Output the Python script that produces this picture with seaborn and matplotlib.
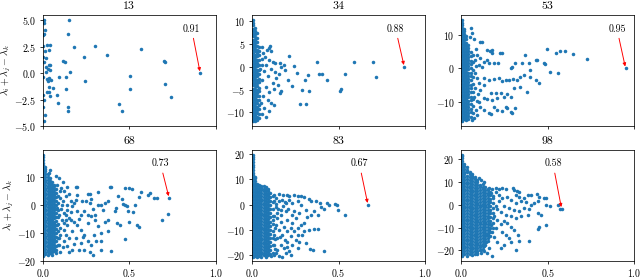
"""Scatter of lambda_i + lambda_j - lambda_k against overlap, one panel per size."""

import matplotlib
matplotlib.use("Agg")
import matplotlib.pyplot as plt
import pandas as pd
import seaborn as sns

titles = ["13", "34", "53", "68", "83", "98"]
y_limits = [(-5.0, 5.5), (-13.0, 11.4), (-17.3, 16.0), (-20.0, 19.6), (-22.1, 21.7), (-24.5, 24.1)]
y_ticks = [[-5.0, -2.5, 0.0, 2.5, 5.0], [-10, -5, 0, 5, 10], [-10, 0, 10],
           [-20, -10, 0, 10], [-20, -10, 0, 10, 20], [-20, -10, 0, 10, 20]]

# ---- 13: few points, all read one by one
pts_13 = [
    (0.004, 5.0), (0.008, 4.7), (0.013, 4.07), (0.005, 3.7), (0.003, 3.6),
    (0.0, 2.54), (0.023, 2.7), (0.04, 2.63), (0.013, 2.1), (0.036, 2.16),
    (0.0, 1.52), (0.008, 1.1), (0.019, 1.46), (0.033, 0.73), (0.042, 0.73),
    (0.019, 0.57), (0.029, 0.35), (0.042, 0.25), (0.019, 0.1), (0.0, -0.38),
    (0.023, -0.54), (0.029, -0.7), (0.038, -0.44), (0.048, -0.63), (0.033, -1.33),
    (0.023, -1.8), (0.038, -1.8), (0.0, -2.1), (0.042, -2.2), (0.008, -2.54),
    (0.0, -3.2), (0.013, -3.97), (0.008, -4.5), (0.057, -1.4), (0.08, -2.1),
    (0.09, -2.8), (0.096, -0.32), (0.119, 1.14), (0.126, 1.08), (0.134, -0.35),
    (0.134, -1.5), (0.148, 3.68), (0.153, 5.0), (0.148, -3.24), (0.148, -3.6),
    (0.157, 0.1), (0.18, 2.48), (0.238, 1.52), (0.241, -0.79), (0.299, 2.54),
    (0.368, 1.71), (0.439, -2.92), (0.458, -3.56), (0.502, -1.46), (0.506, -0.25),
    (0.567, 2.25), (0.701, 1.17), (0.709, 1.05), (0.705, -1.05), (0.739, -2.29),
    (0.91, 0.0),
]

# ---- 34: dense strip near x = 0 (columns) + scattered points
cols_34 = [0.003, 0.014, 0.026, 0.040]
core_34 = [
    [-12.0, -11.4, -10.7, -10.2, -9.5, -9.0, -8.3, -7.8, -7.1, -6.6, -5.9, -5.3, -4.8, -4.1,
     -3.6, -2.9, -2.4, -1.7, -1.2, -0.5, 0.0, 0.7, 1.2, 1.9, 2.4, 3.1, 3.6, 4.3, 4.8, 5.5,
     6.0, 6.7, 7.2, 7.9, 8.4, 9.1, 9.6, 10.3],
    [-11.9, -11.2, -10.6, -9.9, -9.3, -8.7, -8.0, -7.4, -6.8, -6.1, -5.5, -4.9, -4.2, -3.6,
     -3.0, -2.3, -1.7, -1.1, -0.4, 0.2, 0.8, 1.5, 2.1, 2.7, 3.4, 4.0, 4.6, 5.3, 5.9, 6.5,
     7.2, 7.9, 8.6],
    [-11.7, -11.0, -10.2, -9.5, -8.8, -8.0, -7.3, -6.5, -5.8, -5.1, -4.3, -3.6, -2.8, -2.1,
     -1.4, -0.6, 0.1, 0.9, 1.6, 2.3, 3.1, 3.8, 4.6, 5.4, 6.3, 7.5],
    [-11.3, -10.4, -9.2, -8.4, -7.3, -6.5, -5.4, -4.6, -3.4, -2.6, -1.5, -0.6, 0.5, 1.4,
     2.5, 3.4, 4.4],
]
pts_34 = [
    (0.055, 4.3), (0.065, 3.0), (0.087, 3.7), (0.097, 4.2), (0.106, 4.5), (0.112, 3.5),
    (0.060, 1.8), (0.075, 2.2), (0.100, 1.5), (0.120, 1.0), (0.135, 0.8), (0.160, 0.9),
    (0.165, 0.0), (0.185, 0.5), (0.190, -0.8), (0.213, 2.4), (0.245, 0.1), (0.260, -1.3),
    (0.210, -2.8), (0.228, -4.2), (0.155, -1.5), (0.140, -2.5), (0.120, -3.5), (0.090, -2.0),
    (0.070, -1.0), (0.080, -4.5), (0.100, -5.5), (0.126, -4.8), (0.160, -5.7), (0.150, -4.0),
    (0.065, -6.5), (0.090, -7.2), (0.110, -8.0), (0.126, -8.4), (0.070, -9.0), (0.060, -10.3),
    (0.083, -11.0), (0.100, -9.8), (0.050, -8.0), (0.055, -3.0), (0.045, -0.5), (0.060, 0.5),
    (0.080, 0.3), (0.110, -0.5), (0.130, -1.2), (0.165, -5.3), (0.288, -5.1), (0.276, -8.2),
    (0.310, -8.2), (0.327, -5.3), (0.323, -1.8), (0.304, -2.8), (0.373, 1.1), (0.387, -1.5),
    (0.406, -1.6), (0.435, -2.8), (0.509, -5.3), (0.516, -4.9), (0.540, -1.6), (0.590, 1.1),
    (0.700, 1.1), (0.718, -2.2), (0.880, 0.0),
]

# ---- 53
cols_53 = [0.003, 0.015, 0.028, 0.041, 0.054, 0.067]
core_53 = [
    [-15.8, -15.0, -14.3, -13.4, -12.7, -11.9, -11.0, -10.3, -9.5, -8.6, -7.9, -7.1, -6.2,
     -5.5, -4.7, -3.8, -3.1, -2.3, -1.4, -0.7, 0.1, 1.0, 1.7, 2.5, 3.4, 4.1, 4.9, 5.8, 6.5,
     7.3, 8.2, 8.9, 9.7, 10.6, 11.3, 12.1, 13.0, 13.7, 14.5],
    [-15.3, -14.5, -13.6, -12.8, -12.0, -11.2, -10.4, -9.5, -8.7, -7.9, -7.1, -6.3, -5.4,
     -4.6, -3.8, -3.0, -2.2, -1.3, -0.5, 0.3, 1.1, 1.9, 2.8, 3.6, 4.4, 5.2, 6.0, 6.9, 7.7,
     8.5, 9.3, 10.2, 11.1, 11.9],
    [-15.6, -14.7, -13.9, -13.0, -12.2, -11.3, -10.5, -9.6, -8.8, -7.9, -7.1, -6.2, -5.4,
     -4.5, -3.7, -2.8, -2.0, -1.1, -0.3, 0.6, 1.4, 2.3, 3.1, 4.0, 4.8, 5.7, 6.6, 7.6, 8.7, 9.6],
    [-15.3, -14.3, -13.4, -12.5, -11.5, -10.6, -9.7, -8.7, -7.8, -6.9, -5.9, -5.0, -4.1,
     -3.1, -2.2, -1.3, -0.3, 0.6, 1.5, 2.5, 3.4, 4.3, 5.3, 6.2, 7.1],
    [-14.6, -13.2, -12.1, -10.8, -9.6, -8.5, -7.2, -6.0, -4.9, -3.6, -2.4, -1.3, 0.0, 1.2,
     2.3, 3.6, 4.8],
    [-13.5, -11.4, -9.2, -7.0, -4.8, -2.5, -0.4, 1.8, 3.9],
]
pts_53 = [
    (0.054, 12.0), (0.063, 10.5), (0.050, 9.5), (0.073, 8.7), (0.108, 7.8), (0.117, 7.8),
    (0.083, 5.7), (0.150, 5.5), (0.165, 5.3), (0.179, 5.5), (0.179, 4.5), (0.092, 4.0),
    (0.110, 3.0), (0.130, 2.0), (0.146, 2.5), (0.237, 4.5), (0.223, 4.5), (0.100, 1.0),
    (0.120, 0.5), (0.160, 1.5), (0.190, 1.7), (0.210, 1.5), (0.285, 0.0), (0.294, 0.3),
    (0.313, 1.5), (0.352, 1.5), (0.390, 1.7), (0.371, 4.0), (0.430, 2.5), (0.440, 2.5),
    (0.477, 1.5), (0.485, 1.3), (0.496, 5.7), (0.550, 4.7), (0.573, 5.3), (0.600, 5.3),
    (0.646, 4.3), (0.727, 2.7), (0.515, -1.0), (0.560, -1.3), (0.400, -0.5), (0.950, 0.0),
    (0.130, -3.0), (0.160, -3.5), (0.190, -3.3), (0.217, -3.0), (0.237, -3.7), (0.256, -3.5),
    (0.275, -3.5), (0.300, -3.2), (0.323, -3.5), (0.342, -2.5), (0.360, -2.0), (0.400, -2.5),
    (0.430, -3.5), (0.448, -4.5), (0.380, -7.0), (0.342, -5.5), (0.304, -6.0), (0.100, -4.5),
    (0.130, -5.0), (0.110, -6.5), (0.170, -7.5), (0.198, -7.5), (0.227, -7.5), (0.265, -7.7),
    (0.285, -8.5), (0.246, -8.5), (0.208, -9.0), (0.179, -9.5), (0.150, -9.3), (0.130, -9.0),
    (0.110, -11.5), (0.130, -12.5), (0.160, -13.5), (0.170, -13.8), (0.208, -12.5),
    (0.256, -11.5), (0.265, -12.0), (0.285, -13.0), (0.294, -13.5), (0.313, -12.0),
    (0.237, -12.7), (0.190, -11.7), (0.083, -12.5), (0.092, -14.0), (0.073, -15.0),
    (0.063, -15.5), (0.080, -1.5), (0.085, 0.8), (0.075, -8.5), (0.088, -9.8), (0.095, -7.6),
    (0.078, 2.5), (0.090, -3.0), (0.080, -5.8), (0.100, -10.2),
]

# ---- 68
cols_68 = [0.003, 0.015, 0.027, 0.039, 0.051, 0.063, 0.075, 0.088]
core_68 = [
    [-18.2, -17.3, -16.3, -15.4, -14.4, -13.5, -12.5, -11.6, -10.6, -9.7, -8.7, -7.8, -6.8,
     -5.9, -4.9, -4.0, -3.0, -2.1, -1.1, -0.2, 0.8, 1.7, 2.7, 3.6, 4.6, 5.5, 6.5, 7.4, 8.4,
     9.3, 10.3, 11.2, 12.2, 13.1, 14.1, 15.0, 16.0, 16.9, 17.8],
    [-17.6, -16.7, -15.7, -14.8, -13.8, -12.9, -11.9, -11.0, -10.0, -9.1, -8.1, -7.2, -6.2,
     -5.3, -4.3, -3.4, -2.4, -1.5, -0.5, 0.4, 1.4, 2.3, 3.3, 4.2, 5.2, 6.1, 7.1, 8.0, 9.0,
     9.9, 10.9, 11.9, 12.9, 13.5],
    [-18.0, -17.0, -16.1, -15.1, -14.2, -13.2, -12.3, -11.3, -10.4, -9.4, -8.5, -7.5, -6.6,
     -5.6, -4.7, -3.7, -2.8, -1.8, -0.9, 0.1, 1.0, 2.0, 2.9, 3.9, 4.8, 5.8, 6.7, 7.7, 8.7,
     9.8, 11.0],
    [-17.3, -16.4, -15.4, -14.5, -13.5, -12.6, -11.6, -10.7, -9.7, -8.8, -7.8, -6.9, -5.9,
     -5.0, -4.0, -3.1, -2.1, -1.2, -0.2, 0.8, 1.7, 2.7, 3.6, 4.6, 5.5, 6.5, 7.5, 8.6, 9.4],
    [-17.8, -16.9, -15.9, -15.0, -14.0, -13.1, -12.1, -11.2, -10.2, -9.3, -8.3, -7.4, -6.4,
     -5.5, -4.5, -3.6, -2.6, -1.7, -0.7, 0.2, 1.2, 2.1, 3.1, 4.0, 5.0, 6.0, 7.0, 8.1],
    [-16.5, -15.4, -14.4, -13.3, -12.3, -11.2, -10.2, -9.1, -8.1, -7.0, -6.0, -4.9, -3.9,
     -2.8, -1.8, -0.7, 0.3, 1.4, 2.4, 3.5, 4.5, 5.6, 6.6, 7.1],
    [-16.2, -14.6, -13.1, -11.5, -10.2, -8.7, -7.3, -5.8, -4.4, -2.9, -1.5, 0.0, 1.4, 2.9,
     4.3, 5.6],
    [-14.5, -12.0, -9.4, -6.9, -4.3, -1.8, 0.6, 3.2],
]
pts_68 = [
    (0.141, 6.5), (0.190, 6.5), (0.200, 6.2), (0.260, 3.8), (0.270, 4.0), (0.320, 4.4),
    (0.386, 6.5), (0.396, 6.5), (0.475, 6.0), (0.500, 6.0), (0.518, 5.7), (0.570, 4.4),
    (0.610, 3.6), (0.620, 4.2), (0.557, 2.6), (0.640, 2.4), (0.660, 2.4), (0.730, 2.4),
    (0.725, -3.3), (0.690, -5.4),
    (0.435, 3.0), (0.455, 2.1), (0.465, 0.2), (0.475, 0.0), (0.485, -0.4), (0.530, 0.0),
    (0.494, -2.4), (0.524, -2.6), (0.425, -1.2), (0.416, -2.4), (0.376, 1.2), (0.357, 0.6),
    (0.337, -0.2), (0.318, 0.0), (0.347, -1.8), (0.302, -3.6), (0.278, -4.2), (0.259, -3.8),
    (0.220, -3.6), (0.200, -2.4), (0.239, -2.1), (0.288, -1.4), (0.270, 0.6), (0.229, 1.2),
    (0.190, 1.8), (0.160, 1.2), (0.170, -0.6), (0.141, -1.8), (0.131, 3.0), (0.151, 3.8),
    (0.200, 3.6), (0.120, 4.8), (0.100, 2.4),
    (0.430, -6.5), (0.445, -7.1), (0.500, -6.2), (0.543, -7.1), (0.557, -8.1), (0.475, -12.1),
    (0.396, -16.4), (0.337, -13.1), (0.376, -9.5), (0.318, -7.7), (0.288, -17.9),
    (0.278, -14.3), (0.259, -13.1), (0.239, -10.7), (0.220, -8.9), (0.200, -7.1),
    (0.180, -6.0), (0.160, -5.4), (0.141, -7.1), (0.170, -9.5), (0.190, -11.9),
    (0.220, -13.7), (0.239, -16.1), (0.210, -16.1), (0.170, -16.1), (0.141, -14.9),
    (0.120, -13.1), (0.100, -10.7), (0.131, -10.7), (0.259, -6.5), (0.298, -10.7),
    (0.337, -10.1), (0.357, -6.0), (0.376, -5.4), (0.308, -13.1), (0.337, -16.1),
    (0.270, -16.7), (0.100, -16.7), (0.073, -17.3),
    (0.082, 7.1), (0.092, 9.5), (0.073, 10.1), (0.043, 12.5), (0.033, 11.3), (0.110, 0.0),
    (0.082, -1.2), (0.092, -3.6), (0.110, -5.4), (0.082, -7.1), (0.100, -8.3), (0.092, -11.9),
    (0.131, -3.6), (0.151, -4.8), (0.120, -6.5), (0.120, -3.0), (0.141, 0.0), (0.100, 4.8),
    (0.105, -1.5), (0.115, 1.5), (0.125, -9.0), (0.150, -12.0), (0.160, -2.5), (0.180, 0.5),
    (0.180, -14.0), (0.150, -17.0), (0.115, -15.0), (0.210, -5.0), (0.230, -11.5),
    (0.250, 1.5), (0.280, 2.0), (0.300, -5.5), (0.105, 6.0), (0.118, 8.0), (0.135, -5.5),
    (0.095, -14.5),
]

# ---- 83
cols_83 = [0.003, 0.015, 0.028, 0.041, 0.054, 0.067, 0.080, 0.093, 0.106, 0.120]
core_83 = [
    [-20.8, -19.7, -18.6, -17.6, -16.5, -15.4, -14.3, -13.2, -12.2, -11.1, -10.0, -8.9, -7.8,
     -6.8, -5.7, -4.6, -3.5, -2.4, -1.4, -0.3, 0.8, 1.9, 3.0, 4.0, 5.1, 6.2, 7.3, 8.4, 9.4,
     10.5, 11.6, 12.7, 13.8, 14.8, 15.9, 17.0, 18.1, 19.0, 19.7],
    [-20.2, -19.1, -18.0, -16.9, -15.8, -14.7, -13.6, -12.5, -11.4, -10.3, -9.2, -8.1, -7.0,
     -5.9, -4.8, -3.7, -2.6, -1.5, -0.4, 0.7, 1.8, 2.9, 4.0, 5.1, 6.2, 7.3, 8.4, 9.5, 10.6,
     11.0],
    [-20.8, -19.7, -18.6, -17.5, -16.4, -15.3, -14.2, -13.1, -12.0, -10.9, -9.8, -8.7, -7.6,
     -6.5, -5.4, -4.3, -3.2, -2.1, -1.0, 0.1, 1.2, 2.3, 3.4, 4.5, 5.6, 6.7, 7.7, 8.3],
    [-20.2, -19.1, -18.0, -16.9, -15.8, -14.7, -13.6, -12.5, -11.4, -10.3, -9.2, -8.1, -7.0,
     -5.9, -4.8, -3.7, -2.6, -1.5, -0.4, 0.7, 1.8, 2.9, 4.0, 5.1, 6.2, 7.3, 7.9],
    [-20.7, -19.6, -18.5, -17.4, -16.3, -15.2, -14.1, -13.0, -11.9, -10.8, -9.7, -8.6, -7.5,
     -6.4, -5.3, -4.2, -3.1, -2.0, -0.9, 0.2, 1.3, 2.4, 3.5, 4.6, 5.7, 6.8, 7.6],
    [-20.0, -18.9, -17.8, -16.7, -15.6, -14.5, -13.4, -12.3, -11.2, -10.1, -9.0, -7.9, -6.8,
     -5.7, -4.6, -3.5, -2.4, -1.3, -0.2, 0.9, 2.0, 3.1, 4.2, 5.3, 6.4, 7.4],
    [-20.5, -19.4, -18.3, -17.2, -16.1, -15.0, -13.9, -12.8, -11.7, -10.6, -9.5, -8.4, -7.3,
     -6.2, -5.1, -4.0, -2.9, -1.8, -0.7, 0.4, 1.5, 2.6, 3.7, 4.8, 5.9, 7.0],
    [-19.8, -18.7, -17.6, -16.5, -15.4, -14.3, -13.2, -12.1, -11.0, -9.9, -8.8, -7.7, -6.6,
     -5.5, -4.4, -3.3, -2.2, -1.1, 0.0, 1.1, 2.2, 3.3, 4.4, 5.5, 6.3],
    [-19.6, -18.0, -16.4, -14.6, -13.1, -11.5, -9.8, -8.2, -6.7, -5.0, -3.4, -1.8, -0.2, 1.4,
     3.0, 4.6],
    [-19.0, -16.0, -13.0, -10.2, -7.4, -4.5, -1.6, 1.2, 3.3],
]
pts_83 = [
    (0.156, 4.2), (0.180, 3.7), (0.200, 3.9), (0.214, 3.6), (0.243, 3.9), (0.263, 3.6),
    (0.282, 3.3), (0.300, 2.9), (0.330, 2.4), (0.340, 1.6), (0.370, 1.3), (0.390, 0.7),
    (0.434, 0.7), (0.447, 0.0), (0.477, 0.3), (0.490, 0.0), (0.496, -2.0), (0.540, -3.9),
    (0.400, -0.7), (0.418, -1.6), (0.360, -2.6), (0.340, -3.9), (0.320, -5.0), (0.380, -3.9),
    (0.310, -2.0), (0.282, 0.0), (0.263, 1.3), (0.233, 0.7), (0.214, 2.0), (0.195, 0.7),
    (0.175, 2.0), (0.156, 1.3), (0.136, 2.6), (0.126, 3.9),
    (0.300, -7.2), (0.282, -7.9), (0.263, -9.2), (0.380, -9.6), (0.360, -9.6), (0.330, -9.9),
    (0.300, -10.5), (0.263, -11.8), (0.243, -10.5), (0.253, -13.8), (0.233, -15.8),
    (0.263, -17.1), (0.337, -17.4), (0.350, -17.8), (0.418, -18.4), (0.214, -18.4),
    (0.195, -19.1), (0.224, -19.7), (0.185, -17.1), (0.165, -15.8), (0.204, -14.5),
    (0.224, -12.5), (0.204, -10.5), (0.185, -8.6), (0.165, -6.6), (0.146, -5.3),
    (0.204, -5.9), (0.233, -7.2), (0.253, -5.3), (0.272, -3.3), (0.233, -3.9), (0.195, -2.6),
    (0.165, -2.0), (0.136, -0.7), (0.146, -3.3), (0.126, -4.6), (0.136, -7.9), (0.156, -9.9),
    (0.126, -11.8), (0.146, -13.2), (0.175, -11.8), (0.126, -15.8), (0.146, -17.8),
    (0.156, -20.4), (0.126, -19.7), (0.107, -20.4), (0.175, -20.8),
    (0.130, -9.0), (0.140, 0.5), (0.150, -1.5), (0.160, -12.8), (0.170, -4.2), (0.130, -17.5),
    (0.190, -14.0), (0.140, -18.9), (0.180, -0.5), (0.200, -16.5), (0.125, 1.5),
    (0.135, -13.5), (0.190, 1.0), (0.210, -1.5), (0.225, -9.0), (0.245, -2.5), (0.270, -14.5),
    (0.290, -12.0), (0.310, -15.0), (0.120, -6.0),
    (0.670, 0.0),
]

# ---- 98
cols_98 = [0.003, 0.018, 0.033, 0.048, 0.063, 0.078, 0.093, 0.108, 0.123, 0.138, 0.153,
           0.168, 0.183]
core_98 = [
    [-22.3, -21.1, -19.8, -18.6, -17.3, -16.1, -14.8, -13.6, -12.3, -11.0, -9.8, -8.5, -7.3,
     -6.0, -4.8, -3.5, -2.3, -1.0, 0.2, 1.5, 2.7, 4.0, 5.2, 6.5, 7.7, 9.0, 10.2, 11.5, 12.7,
     14.0, 15.2, 16.5, 17.7, 19.0, 20.3, 21.2, 21.9],
    [-21.6, -20.4, -19.1, -17.9, -16.6, -15.4, -14.1, -12.9, -11.6, -10.4, -9.1, -7.9, -6.6,
     -5.4, -4.1, -2.9, -1.6, -0.4, 0.9, 2.1, 3.4, 4.6, 5.9, 7.1, 8.4, 9.6, 10.9, 12.1, 13.4,
     14.6, 15.9, 17.1, 18.0],
    [-22.3, -21.0, -19.8, -18.5, -17.3, -16.0, -14.8, -13.5, -12.3, -11.0, -9.8, -8.5, -7.3,
     -6.0, -4.8, -3.5, -2.3, -1.0, 0.2, 1.5, 2.7, 4.0, 5.2, 6.5, 7.7, 9.0, 10.2, 11.5, 12.8,
     14.2, 15.4, 16.5],
    [-21.6, -20.3, -19.1, -17.8, -16.6, -15.3, -14.1, -12.8, -11.6, -10.3, -9.1, -7.8, -6.6,
     -5.3, -4.1, -2.8, -1.6, -0.3, 0.9, 2.2, 3.4, 4.7, 5.9, 7.2, 8.4, 9.7, 10.9, 12.2, 13.4,
     14.6],
    [-22.0, -20.8, -19.5, -18.3, -17.0, -15.8, -14.5, -13.3, -12.0, -10.8, -9.5, -8.3, -7.0,
     -5.8, -4.5, -3.3, -2.0, -0.8, 0.5, 1.7, 3.0, 4.2, 5.5, 6.7, 8.0, 9.2, 10.5, 11.7, 12.8,
     13.5],
    [-21.4, -20.1, -18.8, -17.6, -16.3, -15.1, -13.8, -12.6, -11.3, -10.1, -8.8, -7.6, -6.3,
     -5.1, -3.8, -2.6, -1.3, -0.1, 1.2, 2.4, 3.7, 4.9, 6.2, 7.4, 8.7, 9.9, 11.1, 12.3],
    [-21.5, -20.2, -19.0, -17.7, -16.5, -15.2, -14.0, -12.7, -11.5, -10.2, -9.0, -7.7, -6.5,
     -5.2, -4.0, -2.7, -1.5, -0.2, 1.0, 2.3, 3.5, 4.8, 6.0, 7.3, 8.5, 9.8, 11.0],
    [-19.9, -18.6, -17.4, -16.1, -14.9, -13.6, -12.4, -11.1, -9.9, -8.6, -7.4, -6.1, -4.9,
     -3.6, -2.4, -1.1, 0.1, 1.4, 2.6, 3.9, 5.1, 6.4, 7.6, 8.9],
    [-19.5, -18.2, -17.0, -15.7, -14.5, -13.2, -12.0, -10.7, -9.5, -8.2, -7.0, -5.7, -4.5,
     -3.2, -2.0, -0.7, 0.5, 1.8, 3.0, 4.3, 5.5, 6.8, 8.0, 9.0],
    [-17.4, -16.1, -14.9, -13.6, -12.4, -11.1, -9.9, -8.6, -7.4, -6.1, -4.9, -3.6, -2.4,
     -1.1, 0.1, 1.4, 2.6, 3.9, 5.1, 6.4, 7.6],
    [-16.0, -14.7, -13.4, -12.2, -10.9, -9.7, -8.4, -7.2, -5.9, -4.7, -3.4, -2.2, -0.9, 0.3,
     1.6, 2.8, 4.1, 5.3, 6.4, 7.0],
    [-13.5, -11.8, -10.2, -8.6, -7.0, -5.3, -3.7, -2.1, -0.5, 1.1, 2.7, 4.2, 5.5],
    [-10.0, -7.8, -5.6, -3.4, -1.2, 1.0, 3.0, 4.0],
]
pts_98 = [
    (0.112, 11.0), (0.132, 10.2), (0.103, 11.7), (0.161, 7.3), (0.180, 7.0), (0.200, 7.3),
    (0.219, 7.0), (0.238, 7.3), (0.258, 6.9), (0.297, 7.3), (0.306, 6.6), (0.322, 6.1),
    (0.335, 5.8), (0.384, 4.4), (0.403, 4.4), (0.438, 4.7), (0.452, 3.6), (0.477, 3.2),
    (0.490, 3.2), (0.442, 1.8), (0.490, 0.0), (0.510, -0.3), (0.558, 0.0), (0.572, -1.8),
    (0.580, -1.8),
    (0.403, 0.0), (0.422, 0.7), (0.374, 1.2), (0.345, 1.8), (0.316, 0.7), (0.287, 2.2),
    (0.267, 3.6), (0.238, 2.9), (0.219, 4.4), (0.248, -0.7), (0.277, -1.5), (0.306, -2.2),
    (0.335, -2.6), (0.364, -1.2), (0.393, -1.8), (0.442, -3.6), (0.461, -4.4), (0.384, -4.4),
    (0.345, -5.1), (0.316, -5.8), (0.287, -5.1), (0.258, -4.4), (0.229, -3.2), (0.209, -1.8),
    (0.200, -0.3), (0.219, 1.5), (0.490, -8.8), (0.452, -9.9), (0.442, -10.7), (0.393, -15.8),
    (0.335, -15.8), (0.326, -13.1), (0.306, -10.9), (0.287, -9.5), (0.267, -8.0),
    (0.248, -7.3), (0.229, -8.5), (0.209, -6.6), (0.190, -5.1), (0.238, -11.7), (0.258, -13.1),
    (0.277, -14.6), (0.287, -16.4), (0.248, -17.5), (0.229, -19.0), (0.316, -19.7),
    (0.209, -16.1), (0.190, -13.9), (0.180, -11.7), (0.200, -10.2), (0.171, -8.8),
    (0.161, -10.9), (0.151, -13.1), (0.141, -16.1), (0.132, -18.2), (0.112, -19.7),
    (0.180, -22.2), (0.151, -21.2), (0.132, -20.4), (0.093, -21.2), (0.161, -19.0),
    (0.112, -21.2), (0.200, 5.8), (0.171, 5.1), (0.335, 3.6), (0.364, 2.9), (0.316, 4.4),
]

panels = [
    ([], [], pts_13),
    (cols_34, core_34, pts_34),
    (cols_53, core_53, pts_53),
    (cols_68, core_68, pts_68),
    (cols_83, core_83, pts_83),
    (cols_98, core_98, pts_98),
]


def panel_frame(cols, core, pts):
    """Long table of one panel's points: dense columns first, then scattered ones."""
    xs, ys = [], []
    for cx, col in zip(cols, core):
        xs += [cx] * len(col)
        ys += col
    for px, py in pts:
        xs.append(px)
        ys.append(py)
    return pd.DataFrame({"x": xs, "y": ys})


plt.rcParams["font.family"] = "serif"
plt.rcParams["font.serif"] = ["cmr10"]
plt.rcParams["mathtext.fontset"] = "cm"
plt.rcParams["axes.formatter.use_mathtext"] = True
plt.rcParams["font.size"] = 10.5
plt.rcParams["xtick.major.pad"] = 2.8

fig, axes = plt.subplots(2, 3, figsize=(640 / 68, 278 / 68), dpi=68, sharex=True)
fig.subplots_adjust(left=0.067, right=0.991, bottom=0.062, top=0.946, wspace=0.21, hspace=0.215)

for ax, title, (cols, core, pts), ylim, yt in zip(axes.flat, titles, panels, y_limits, y_ticks):
    df = panel_frame(cols, core, pts)
    sns.scatterplot(data=df, x="x", y="y", s=14, linewidth=0, color="C0", ax=ax)
    ax.set_xlim(0, 1)
    ax.set_xticks([0.0, 0.5, 1.0])
    ax.set_ylim(*ylim)
    ax.set_yticks(yt)
    ax.set_xlabel("")
    ax.set_ylabel("")
    ax.set_title(title)

    # arrow to the point that lies furthest right
    best = df.loc[df["x"].idxmax()]
    ax.annotate(
        f"{best['x']:.2f}",
        xy=(best["x"], best["y"]),
        xytext=(best["x"] - 0.05, 0.875),
        textcoords=ax.get_xaxis_transform(),
        ha="center", va="center",
        arrowprops=dict(arrowstyle="-|>", color="red", lw=1.0,
                        shrinkA=3, shrinkB=2, mutation_scale=7),
    )

for ax in axes[:, 0]:
    ax.set_ylabel(r"$\lambda_i + \lambda_j - \lambda_k$", labelpad=1)

fig.savefig("out.png", dpi=68)
